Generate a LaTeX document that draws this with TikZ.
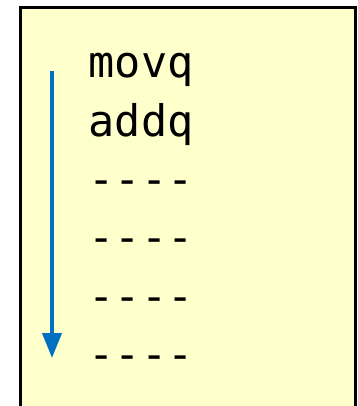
\documentclass[tikz,border=0pt]{standalone}
\usepackage{fontspec}
\setmonofont{DejaVu Sans Mono}
\usepackage{tikz}
\usetikzlibrary{arrows.meta,positioning}
\definecolor{notepad}{RGB}{255,255,204}
\definecolor{flowblue}{RGB}{0,112,192}
\tikzstyle{codeline}=[anchor=base west,inner sep=0pt,font=\ttfamily\fontsize{43.5}{50}\selectfont]

\begin{document}
\begin{tikzpicture}[x=1pt,y=-1pt]
\useasboundingbox (0,0) rectangle (357,406);
\clip (0,0) rectangle (357,406);
\draw [line width=3.2pt,fill=notepad] (20.5,7.5) rectangle (355.5,430);
\node [codeline] (movq) at (88.5,78) {movq};
\node [codeline] (addq) at (88.5,136.3) {addq};
\node [codeline] (ln3) at (88.5,194.6) {----};
\node [codeline] (ln4) at (88.5,252.9) {----};
\node [codeline] (ln5) at (88.5,311.2) {----};
\node [codeline] (ln6) at (88.5,369.5) {----};
\coordinate (top) at (52,71);
\coordinate (bottom) at (52,358);
\draw [flowblue,line width=4pt,-{Triangle[width=19pt,length=25pt]}] (top) -- (bottom);
\end{tikzpicture}
\end{document}
